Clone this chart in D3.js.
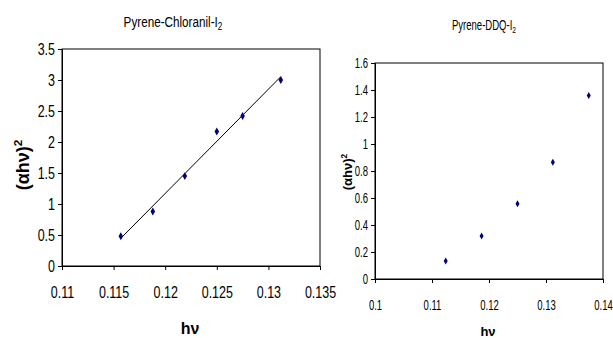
<!DOCTYPE html>
<html>
<head>
<meta charset="utf-8">
<script src="https://cdn.jsdelivr.net/npm/d3@7"></script>
<style>
  body { margin: 0; background: #fff; }
  svg { display: block; }
  .tick text { font-family: "Liberation Sans", Arial, sans-serif; fill: #000; }
  .domain, .tick line { stroke: #000; }
</style>
</head>
<body>
<svg id="chart" width="613" height="338"></svg>
<script>
// Pyrene-Chloranil-I2
const chlHv = [0.1157, 0.1188, 0.1219, 0.1250, 0.1275, 0.1312];
const chlAlpha = [0.48, 0.88, 1.45, 2.17, 2.42, 3.00];
const chlXTicks = [0.11, 0.115, 0.12, 0.125, 0.13, 0.135];
const chlYTicks = [0, 0.5, 1, 1.5, 2, 2.5, 3, 3.5];

// Pyrene-DDQ-I2
const ddqHv = [0.1124, 0.1187, 0.1250, 0.1312, 0.1375];
const ddqAlpha = [0.134, 0.319, 0.557, 0.865, 1.359];
const ddqXTicks = [0.1, 0.11, 0.12, 0.13, 0.14];
const ddqYTicks = [0, 0.2, 0.4, 0.6, 0.8, 1, 1.2, 1.4, 1.6];

const svg = d3.select("#chart");
const font = "Liberation Sans, Arial, sans-serif";

// squeeze text horizontally (the original uses a narrow face)
function narrow(sel, k) {
  sel.each(function () {
    const t = d3.select(this);
    const x = +t.attr("x") || 0;
    t.attr("x", x / k).attr("transform", `scale(${k},1)`);
  });
}

function panel(opt) {
  const x = d3.scaleLinear().domain(opt.xDomain).range([opt.left, opt.right]);
  const y = d3.scaleLinear().domain(opt.yDomain).range([opt.bottom, opt.top]);
  const g = svg.append("g");

  // y title first so the tick labels sit on top of it
  const yt = g.append("text")
    .attr("transform", `translate(${opt.ytX},${opt.ytY}) rotate(-90)`)
    .attr("text-anchor", "middle")
    .style("font-family", font).style("font-weight", "bold")
    .style("font-size", opt.ytFont + "px");
  yt.append("tspan").text("(αhν)");
  yt.append("tspan").text("2").attr("dy", -opt.ytFont * 0.4).style("font-size", (opt.ytFont * 0.65) + "px");

  // frame
  g.append("rect")
    .attr("x", opt.left).attr("y", opt.top)
    .attr("width", opt.right - opt.left).attr("height", opt.bottom - opt.top)
    .attr("fill", "none").attr("stroke", "#000").attr("stroke-width", 1);

  g.append("g")
    .attr("transform", `translate(0,${opt.bottom})`)
    .call(d3.axisBottom(x).tickValues(opt.xTicks).tickSize(4).tickPadding(opt.xPad).tickFormat(d3.format("")))
    .call(a => a.selectAll("text").style("font-size", opt.tickFont + "px").call(narrow, opt.squeeze));

  g.append("g")
    .attr("transform", `translate(${opt.left},0)`)
    .call(d3.axisLeft(y).tickValues(opt.yTicks).tickSize(4).tickPadding(3).tickFormat(d3.format("")))
    .call(a => a.selectAll("text").style("font-size", opt.tickFont + "px")
      .style("paint-order", "stroke").style("stroke", "#fff").style("stroke-width", opt.halo)
      .call(narrow, opt.squeeze));

  // trendline by least squares
  if (opt.trend) {
    const mx = d3.mean(opt.xs), my = d3.mean(opt.ys);
    const sxy = d3.sum(opt.xs, (v, i) => (v - mx) * (opt.ys[i] - my));
    const sxx = d3.sum(opt.xs, v => (v - mx) * (v - mx));
    const b = sxy / sxx, a0 = my - b * mx;
    const ends = d3.extent(opt.xs);
    g.append("line")
      .attr("x1", x(ends[0])).attr("y1", y(a0 + b * ends[0]))
      .attr("x2", x(ends[1])).attr("y2", y(a0 + b * ends[1]))
      .attr("stroke", "#000").attr("stroke-width", 1);
  }

  g.selectAll("path.pt")
    .data(opt.xs)
    .enter()
    .append("path")
    .attr("class", "pt")
    .attr("d", d3.symbol(d3.symbolDiamond, opt.mark)())
    .attr("transform", (d, i) => `translate(${x(d)},${y(opt.ys[i])})`)
    .attr("fill", "#000080");

  // title with subscript
  const t = g.append("text")
    .attr("x", opt.titleX).attr("y", opt.titleY)
    .attr("text-anchor", "middle")
    .style("font-family", font)
    .style("font-size", opt.titleFont + "px");
  t.append("tspan").text(opt.title);
  t.append("tspan").text("2").attr("dy", 3).style("font-size", (opt.titleFont * 0.7) + "px");
  narrow(t, opt.squeeze);

  g.append("text")
    .attr("x", opt.hvX).attr("y", opt.hvY)
    .attr("text-anchor", "middle")
    .style("font-family", font).style("font-weight", "bold")
    .style("font-size", opt.hvFont + "px")
    .text("hν");
}

panel({
  xs: chlHv, ys: chlAlpha, xTicks: chlXTicks, yTicks: chlYTicks,
  xDomain: [0.11, 0.135], yDomain: [0, 3.5],
  left: 62, right: 320, top: 49, bottom: 266,
  tickFont: 16, squeeze: 0.78, halo: 0, xPad: 17, mark: 18, trend: true,
  title: "Pyrene-Chloranil-I", titleX: 173, titleY: 27, titleFont: 15,
  hvX: 190, hvY: 334, hvFont: 16,
  ytX: 29, ytY: 165, ytFont: 18
});

panel({
  xs: ddqHv, ys: ddqAlpha, xTicks: ddqXTicks, yTicks: ddqYTicks,
  xDomain: [0.1, 0.14], yDomain: [0, 1.6],
  left: 375, right: 603, top: 63, bottom: 279,
  tickFont: 14, squeeze: 0.68, halo: 3, xPad: 17, mark: 14, trend: false,
  title: "Pyrene-DDQ-I", titleX: 484, titleY: 30, titleFont: 14,
  hvX: 488, hvY: 336, hvFont: 13,
  ytX: 352, ytY: 172, ytFont: 13
});
</script>
</body>
</html>
